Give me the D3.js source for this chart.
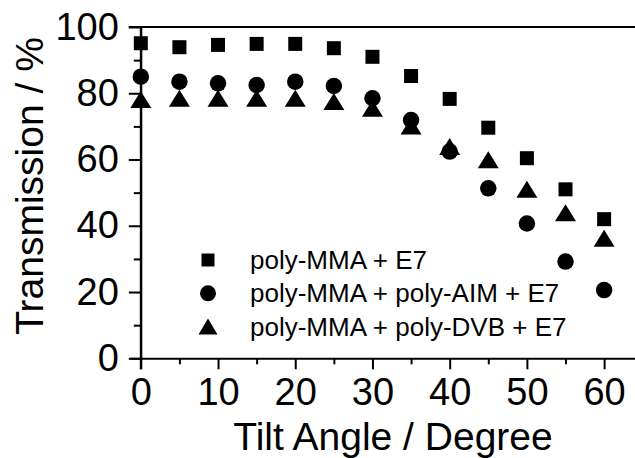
<!DOCTYPE html>
<html>
<head>
<meta charset="utf-8">
<script src="https://cdn.jsdelivr.net/npm/d3@7"></script>
<style>
  body { margin: 0; background: #fff; }
  svg { display: block; font-family: "Liberation Sans", Arial, Helvetica, sans-serif; }
  .axis path, .axis line { stroke: #000; stroke-width: 2; }
  .axis text { font-size: 38px; fill: #000; }
</style>
</head>
<body>
<div id="chart"></div>
<script>
// tilt angle (degree)
const angles = [0, 5, 10, 15, 20, 25, 30, 35, 40, 45, 50, 55, 60];

// transmission (%) per sample
const polyMMA = [95.1, 93.9, 94.6, 94.9, 94.9, 93.6, 91.0, 85.2, 78.3, 69.6, 60.4, 51.0, 42.0];
const polyMMA_AIM = [85.0, 83.5, 83.0, 82.5, 83.5, 82.2, 78.5, 71.9, 62.4, 51.3, 40.7, 29.2, 20.6];
const polyMMA_DVB = [78.1, 78.5, 78.5, 78.5, 78.5, 77.5, 75.5, 70.1, 63.9, 59.9, 51.0, 43.9, 36.2];

const seriesNames = ['poly-MMA + E7', 'poly-MMA + poly-AIM + E7', 'poly-MMA + poly-DVB + E7'];
const seriesShapes = ['square', 'circle', 'triangle'];

const xMajorTicks = [0, 10, 20, 30, 40, 50, 60];
const xMinorTicks = [5, 15, 25, 35, 45, 55];
const yMajorTicks = [0, 20, 40, 60, 80, 100];
const yMinorTicks = [10, 30, 50, 70, 90];

const width = 635;
const height = 458;

const svg = d3.select('#chart').append('svg')
  .attr('width', width)
  .attr('height', height);

const x = d3.scaleLinear().domain([-1.4, 64]).range([130, 635]);
const y = d3.scaleLinear().domain([0, 100]).range([358.3, 27]);

// ----------------------------------------------------------
// Axes
// ----------------------------------------------------------

svg.append('g')
  .attr('class', 'axis')
  .attr('transform', 'translate(0,' + y(0) + ')')
  .call(d3.axisBottom(x).tickValues(xMinorTicks).tickSize(6).tickSizeOuter(0).tickFormat(''));

svg.append('g')
  .attr('class', 'axis')
  .attr('transform', 'translate(0,' + y(0) + ')')
  .call(d3.axisBottom(x).tickValues(xMajorTicks).tickSize(11).tickSizeOuter(0).tickPadding(9))
  .call((g) => g.select('.domain').remove());

svg.append('g')
  .attr('class', 'axis')
  .attr('transform', 'translate(' + x(0) + ',0)')
  .call(d3.axisLeft(y).tickValues(yMinorTicks).tickSize(7).tickSizeOuter(0).tickFormat(''));

svg.append('g')
  .attr('class', 'axis')
  .attr('transform', 'translate(' + x(0) + ',0)')
  .call(d3.axisLeft(y).tickValues(yMajorTicks).tickSize(12).tickSizeOuter(0).tickPadding(10))
  .call((g) => g.select('.domain').remove());

// y axis line runs down through the x axis
svg.append('line')
  .attr('x1', x(0)).attr('x2', x(0))
  .attr('y1', y(100)).attr('y2', y(0) + 11)
  .attr('stroke', '#000').attr('stroke-width', 2);

// top frame line
svg.append('line')
  .attr('x1', x(0) - 12).attr('x2', x.range()[1])
  .attr('y1', y(100)).attr('y2', y(100))
  .attr('stroke', '#000').attr('stroke-width', 2);

// axis titles
svg.append('text')
  .attr('x', 393)
  .attr('y', 450)
  .attr('text-anchor', 'middle')
  .attr('font-size', 39)
  .text('Tilt Angle / Degree');

svg.append('text')
  .attr('transform', 'translate(43,186) rotate(-90)')
  .attr('text-anchor', 'middle')
  .attr('font-size', 39)
  .text('Transmission / %');

// ----------------------------------------------------------
// Markers
// ----------------------------------------------------------

function markerPath(shape, s) {
  if (shape === 'square') {
    const h = s.sq / 2;
    return 'M' + -h + ',' + -h + 'H' + h + 'V' + h + 'H' + -h + 'Z';
  }
  if (shape === 'circle') {
    const r = s.circ / 2;
    return 'M' + r + ',0A' + r + ',' + r + ' 0 1,1 ' + -r + ',0A' + r + ',' + r + ' 0 1,1 ' + r + ',0Z';
  }
  const w = s.triW / 2, h = s.triH / 2;
  return 'M0,' + -h + 'L' + w + ',' + h + 'L' + -w + ',' + h + 'Z';
}

const plotSize = { sq: 14, circ: 16.5, triW: 21, triH: 17 };
const legendSize = { sq: 13, circ: 16, triW: 19, triH: 16 };

const seriesValues = [polyMMA, polyMMA_AIM, polyMMA_DVB];

// draw triangles first, circles over them, squares on top (as in the original)
[2, 1, 0].forEach((si) => {
  svg.append('g')
    .selectAll('path')
    .data(angles.map((a, i) => ({ a, v: seriesValues[si][i] })))
    .enter()
    .append('path')
    .attr('transform', (d) => 'translate(' + x(d.a) + ',' + y(d.v) + ')')
    .attr('d', markerPath(seriesShapes[si], plotSize))
    .attr('fill', '#000');
});

// ----------------------------------------------------------
// Legend
// ----------------------------------------------------------

const legend = svg.append('g').attr('transform', 'translate(208,260)');

const rows = legend.selectAll('g')
  .data(seriesNames)
  .enter()
  .append('g')
  .attr('transform', (d, i) => 'translate(0,' + i * 33.3 + ')');

rows.append('path')
  .attr('d', (d, i) => markerPath(seriesShapes[i], legendSize))
  .attr('fill', '#000');

rows.append('text')
  .attr('x', 42)
  .attr('y', 0)
  .attr('dy', '0.35em')
  .attr('font-size', 26)
  .text((d) => d);
</script>
</body>
</html>
